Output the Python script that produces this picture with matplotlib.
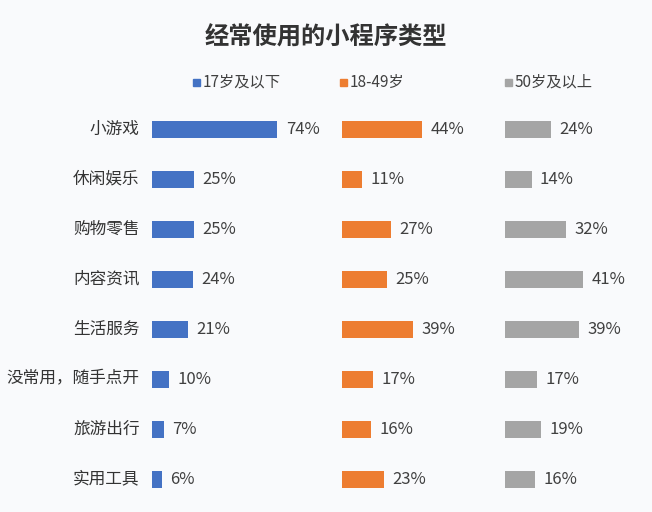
import matplotlib.pyplot as plt
import numpy as np
from matplotlib.patches import Rectangle

plt.rcParams['font.family'] = ['Noto Sans CJK SC', 'DejaVu Sans']

# data
categories = ["小游戏", "休闲娱乐", "购物零售", "内容资讯", "生活服务",
              "没常用，随手点开", "旅游出行", "实用工具"]
groups = ["17岁及以下", "18-49岁", "50岁及以上"]
under17 = [74, 25, 25, 24, 21, 10, 7, 6]
age18_49 = [44, 11, 27, 25, 39, 17, 16, 23]
over50 = [24, 14, 32, 41, 39, 17, 19, 16]
series = [under17, age18_49, over50]
colors = ["#4472C4", "#ED7D31", "#A5A5A5"]

W, H = 652, 512
bg = "#f9fafc"
fig = plt.figure(figsize=(W / 100, H / 100), dpi=100)
fig.patch.set_facecolor(bg)


def px_axes(x0, x1, y0, y1):
    # pixel box (top-left origin) -> figure axes
    return fig.add_axes([x0 / W, 1 - y1 / H, (x1 - x0) / W, (y1 - y0) / H])


fig.text(326 / W, 1 - 38 / H, "经常使用的小程序类型", ha="center", va="center",
         fontsize=17.5, fontweight="bold", color="#333333")

# panels: (left px, right px, xmax)
panels = [(152, 335, 108), (342, 500, 87), (505, 640, 71)]
legend_x = [193, 340, 505]
y = np.arange(len(categories))

for i, (vals, col, (x0, x1, xmax)) in enumerate(zip(series, colors, panels)):
    ax = px_axes(x0, x1, 104, 504)
    ax.set_facecolor("none")
    ax.barh(y, vals, height=0.34, color=col)
    ax.set_xlim(0, xmax)
    ax.set_ylim(len(categories) - 0.5, -0.5)
    for yi, v in zip(y, vals):
        ax.annotate(f"{v}%", (v, yi), xytext=(6, 0), textcoords="offset points",
                    ha="left", va="center", fontsize=12, color="#404040")
    ax.axis("off")
    if i == 0:
        for yi, c in zip(y, categories):
            ax.annotate(c, (0, yi), xytext=(-9, 0), textcoords="offset points",
                        ha="right", va="center", fontsize=12, color="#333333")
    # legend marker + label
    lx = legend_x[i]
    fig.patches.append(Rectangle((lx / W, 1 - 86 / H), 7 / W, 7 / H,
                                 transform=fig.transFigure, color=col))
    fig.text((lx + 10) / W, 1 - 82 / H, groups[i], ha="left", va="center",
             fontsize=11, color="#404040")

fig.savefig("out.png", dpi=100, facecolor=bg)
